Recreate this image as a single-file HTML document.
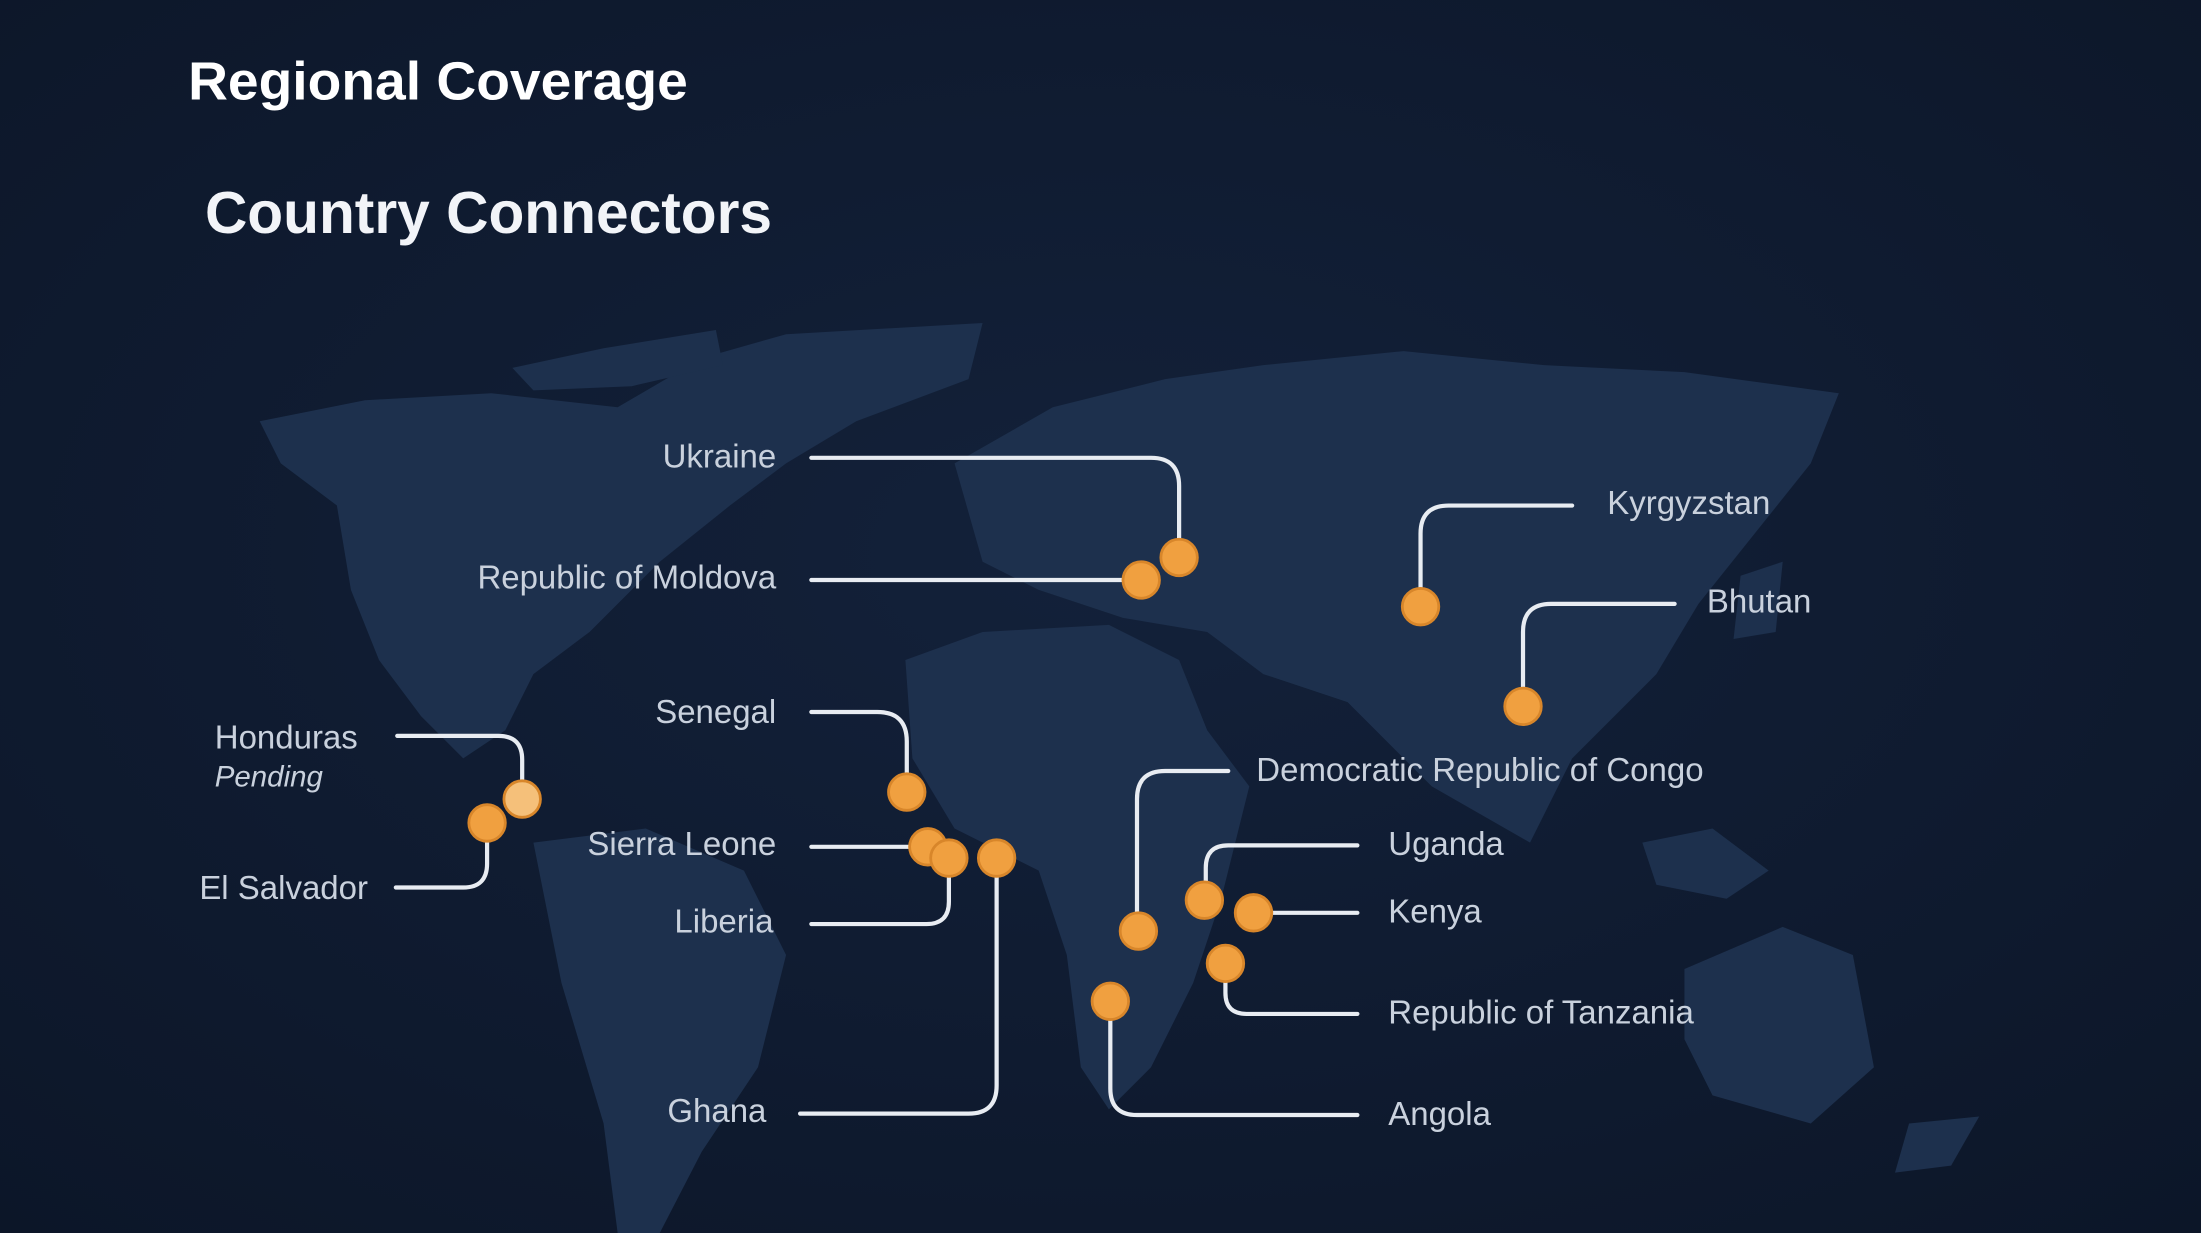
<!DOCTYPE html>
<html><head><meta charset="utf-8"><style>
html,body{margin:0;padding:0;background:#0f1a2e;}
svg{display:block}
</style></head><body>
<svg width="2201" height="1233" viewBox="0 0 1568 878" preserveAspectRatio="none" xmlns="http://www.w3.org/2000/svg">
<defs>
<radialGradient id="bg" cx="50%" cy="45%" r="75%">
<stop offset="0" stop-color="#13213a"/><stop offset="1" stop-color="#0c1628"/>
</radialGradient>
</defs>
<rect width="1568" height="878" fill="url(#bg)"/>
<g fill="#1d304d">
<polygon points="185,300 260,285 350,280 440,290 500,255 560,238 700,230 690,270 610,300 560,330 520,360 470,400 420,450 380,480 360,520 330,540 300,510 270,470 250,420 240,360 200,330"/>
<polygon points="365,262 430,248 510,235 515,260 450,275 380,278"/>
<polygon points="380,600 460,590 530,620 560,680 540,760 500,820 470,878 440,878 430,800 400,700"/>
<polygon points="645,470 700,450 790,445 840,470 860,520 890,560 870,640 850,700 820,760 790,790 770,760 760,680 740,620 680,590 650,540"/>
<polygon points="680,330 750,290 830,270 900,260 1000,250 1100,260 1200,265 1310,280 1290,330 1250,380 1210,430 1180,480 1120,540 1090,600 1020,560 960,500 900,480 860,450 800,440 740,420 700,400"/>
<polygon points="1200,690 1270,660 1320,680 1335,760 1290,800 1220,780 1200,740"/>
<polygon points="1170,600 1220,590 1260,620 1230,640 1180,630"/>
<polygon points="1360,800 1410,795 1390,830 1350,835"/>
<polygon points="1240,410 1270,400 1265,450 1235,455"/>
</g>
<g font-family="Liberation Sans, sans-serif" fill="#fff" font-weight="bold">
<text x="134" y="71" font-size="38" textLength="356" lengthAdjust="spacingAndGlyphs">Regional Coverage</text>
<text x="146" y="166" font-size="42" fill="#f2f4f8" textLength="404" lengthAdjust="spacingAndGlyphs">Country Connectors</text>
</g>
<g fill="none" stroke="#e8ecf2" stroke-width="3" stroke-linecap="round">
<path d="M578,326 H820 Q840,326 840,346 V397"/>
<path d="M578,413 H813"/>
<path d="M1120,360 H1032 Q1012,360 1012,380 V432"/>
<path d="M1193,430 H1105 Q1085,430 1085,450 V503"/>
<path d="M875,549 H830 Q810,549 810,569 V663"/>
<path d="M967,602 H875 Q859,602 859,618 V641"/>
<path d="M967,650 H893"/>
<path d="M967,722 H888 Q873,722 873,707 V686"/>
<path d="M967,794 H810 Q791,794 791,775 V713"/>
<path d="M283,524 H355 Q372,524 372,541 V569"/>
<path d="M282,632 H330 Q347,632 347,615 V586"/>
<path d="M578,507 H625 Q646,507 646,528 V564"/>
<path d="M578,603 H661"/>
<path d="M578,658 H660 Q676,658 676,642 V611"/>
<path d="M570,793 H690 Q710,793 710,773 V611"/>
</g>
<g fill="#f0a040" stroke="#d8862a" stroke-width="2">
<circle cx="840" cy="397" r="13"/>
<circle cx="813" cy="413" r="13"/>
<circle cx="1012" cy="432" r="13"/>
<circle cx="1085" cy="503" r="13"/>
<circle cx="811" cy="663" r="13"/>
<circle cx="858" cy="641" r="13"/>
<circle cx="893" cy="650" r="13"/>
<circle cx="873" cy="686" r="13"/>
<circle cx="791" cy="713" r="13"/>
<circle cx="347" cy="586" r="13"/>
<circle cx="372" cy="569" r="13" fill="#f5c07a"/>
<circle cx="646" cy="564" r="13"/>
<circle cx="661" cy="603" r="13"/>
<circle cx="676" cy="611" r="13"/>
<circle cx="710" cy="611" r="13"/>
</g>
<g font-family="Liberation Sans, sans-serif" font-size="23.5" fill="#c9d1dd">
<text x="553" y="333" text-anchor="end">Ukraine</text>
<text x="553" y="419" text-anchor="end">Republic of Moldova</text>
<text x="1145" y="366">Kyrgyzstan</text>
<text x="1216" y="436">Bhutan</text>
<text x="895" y="556">Democratic Republic of Congo</text>
<text x="989" y="609">Uganda</text>
<text x="989" y="657">Kenya</text>
<text x="989" y="729">Republic of Tanzania</text>
<text x="989" y="801">Angola</text>
<text x="153" y="533">Honduras</text>
<text x="153" y="560" font-style="italic" font-size="21">Pending</text>
<text x="142" y="640">El Salvador</text>
<text x="553" y="515" text-anchor="end">Senegal</text>
<text x="553" y="609" text-anchor="end">Sierra Leone</text>
<text x="551" y="664" text-anchor="end">Liberia</text>
<text x="546" y="799" text-anchor="end">Ghana</text>
</g>
</svg>
</body></html>
